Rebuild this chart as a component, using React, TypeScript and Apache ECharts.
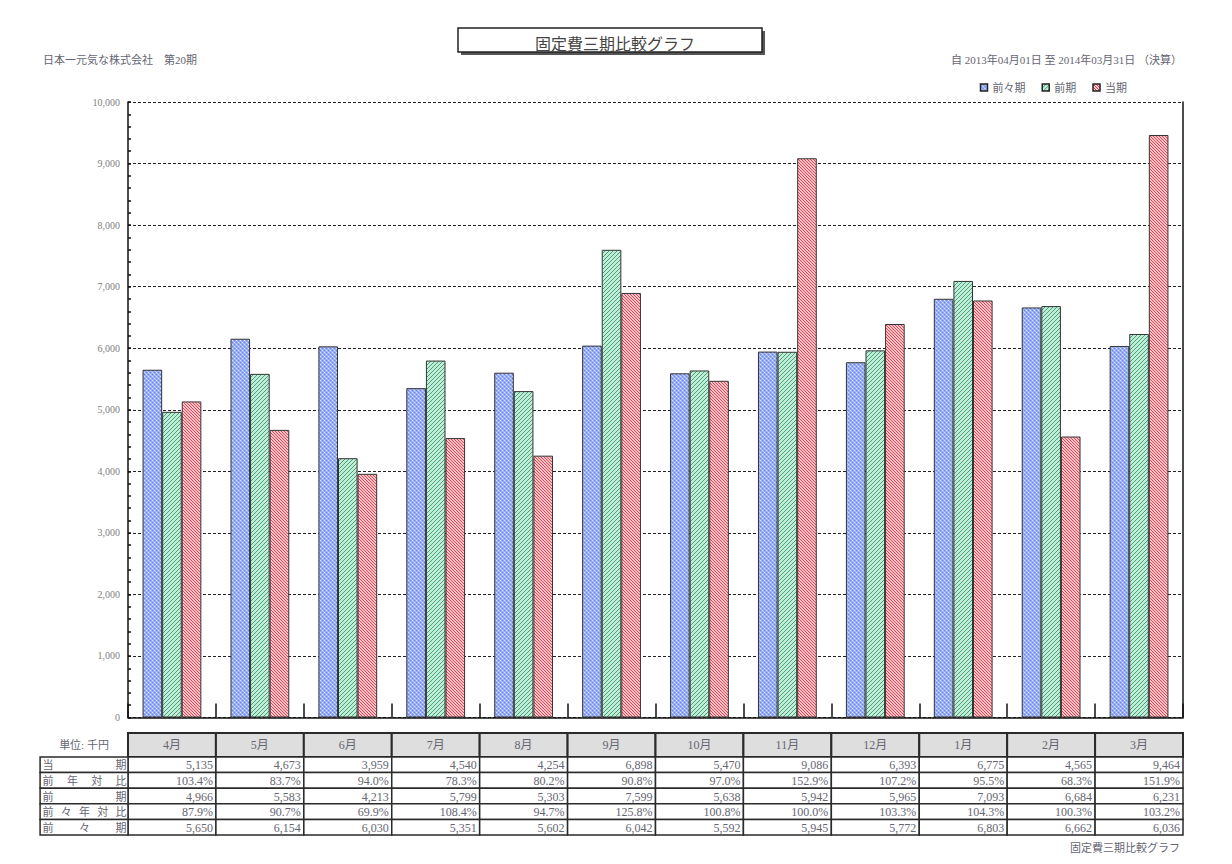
import React, { useEffect, useRef } from "react";
import * as echarts from "echarts";

const months = ["4月", "5月", "6月", "7月", "8月", "9月", "10月", "11月", "12月", "1月", "2月", "3月"];
const seriesNames = ["前々期", "前期", "当期"];
const current = [5135, 4673, 3959, 4540, 4254, 6898, 5470, 9086, 6393, 6775, 4565, 9464];
const yoyRatio = [103.4, 83.7, 94.0, 78.3, 80.2, 90.8, 97.0, 152.9, 107.2, 95.5, 68.3, 151.9];
const previous = [4966, 5583, 4213, 5799, 5303, 7599, 5638, 5942, 5965, 7093, 6684, 6231];
const yoy2Ratio = [87.9, 90.7, 69.9, 108.4, 94.7, 125.8, 100.8, 100.0, 103.3, 104.3, 100.3, 103.2];
const previous2 = [5650, 6154, 6030, 5351, 5602, 6042, 5592, 5945, 5772, 6803, 6662, 6036];
const rowLabels = [["当", "期"], ["前", "年", "対", "比"], ["前", "期"], ["前", "々", "年", "対", "比"], ["前", "々", "期"]];
const yTicks = { min: 0, max: 10000, interval: 1000 };

const SERIF = "'Liberation Serif', 'DejaVu Serif', 'Noto Sans CJK JP', serif";
const TXT = "#666672";

const fmtN = (v: number) => v.toLocaleString("en-US");
const fmtP = (v: number) => v.toFixed(1) + "%";

function makePattern(w: number, h: number, bg: string, pixels: [number, number, string][]) {
  const cv = document.createElement("canvas");
  cv.width = w;
  cv.height = h;
  const ctx = cv.getContext("2d")!;
  ctx.fillStyle = bg;
  ctx.fillRect(0, 0, w, h);
  pixels.forEach(([x, y, c]) => {
    ctx.fillStyle = c;
    ctx.fillRect(x, y, 1, 1);
  });
  return { image: cv.toDataURL(), repeat: "repeat", imageWidth: w, imageHeight: h } as any;
}

export default function App() {
  const ref = useRef<HTMLDivElement>(null);
  useEffect(() => {
    if (!ref.current) return;
    const chart = echarts.init(ref.current, undefined, { renderer: "svg" });

    const blueP = makePattern(4, 4, "#93aaf4", [
      [0, 0, "#dfe6ff"], [2, 2, "#dfe6ff"], [0, 2, "#6a84ea"], [2, 0, "#6a84ea"],
      [1, 1, "#b4c4fa"], [3, 3, "#b4c4fa"],
    ]);
    const greenD = "#3ea677";
    const greenP = makePattern(4, 4, "#c4ead8", [
      [0, 3, greenD], [1, 2, greenD], [2, 1, greenD], [3, 0, greenD],
    ]);
    const redD = "#f0404f";
    const redP = makePattern(3, 3, "#fcc8cc", [
      [0, 0, redD], [1, 1, redD], [2, 2, redD],
    ]);
    const patterns = [blueP, greenP, redP];
    const values = [previous2, previous, current];

    const rowTexts = [current.map(fmtN), yoyRatio.map(fmtP), previous.map(fmtN), yoy2Ratio.map(fmtP), previous2.map(fmtN)];

    const headerData = months.map((_, i) => [i, 0]);
    const cellData: number[][] = [];
    rowTexts.forEach((row, r) => row.forEach((_, i) => cellData.push([i, r])));

    const option: any = {
      animation: false,
      backgroundColor: "#fff",
      title: {
        text: "固定費三期比較グラフ",
        left: 610,
        top: 31,
        textAlign: "center",
        textStyle: { fontSize: 16, fontWeight: "normal", color: "#444", fontFamily: SERIF },
      },
      legend: {
        data: seriesNames,
        right: 100,
        top: 77,
        itemWidth: 7,
        itemHeight: 7,
        itemGap: 16,
        icon: "rect",
        textStyle: { fontSize: 11, color: TXT, fontFamily: SERIF },
        itemStyle: { borderColor: "#222", borderWidth: 1.5 },
      },
      graphic: [
        { type: "rect", shape: { x: 461, y: 31, width: 304, height: 24 }, style: { fill: "#555" }, z: 0 },
        { type: "rect", shape: { x: 458, y: 28, width: 304, height: 24 }, style: { fill: "#fff", stroke: "#222", lineWidth: 1.5 }, z: 1 },
        {
          type: "text", style: { text: "日本一元気な株式会社　第20期", x: 43, y: 60, verticalAlign: "middle", fontSize: 11, fontFamily: SERIF, fill: TXT },
        },
        {
          type: "text", style: { text: "自 2013年04月01日 至 2014年03月31日 （決算）", x: 1182, y: 60, align: "right", verticalAlign: "middle", fontSize: 11, fontFamily: SERIF, fill: TXT },
        },
        {
          type: "text", style: { text: "固定費三期比較グラフ", x: 1180, y: 848, align: "right", verticalAlign: "middle", fontSize: 11, fontFamily: SERIF, fill: TXT },
        },
      ],
      grid: [
        { left: 128, right: 49, top: 102, bottom: 146.5 },
        { left: 128, right: 49, top: 733, height: 24 },
        { left: 128, right: 49, top: 757, height: 78 },
      ],
      xAxis: [
        {
          type: "category", gridIndex: 0, data: months, boundaryGap: true,
          axisLine: { show: true, lineStyle: { color: "#111", width: 1.5 } },
          axisTick: { show: true, inside: true, length: 14, lineStyle: { color: "#111", width: 1.5 } },
          axisLabel: { show: false },
        },
        { type: "category", gridIndex: 1, data: months, show: false },
        { type: "category", gridIndex: 2, data: months, show: false },
      ],
      yAxis: [
        {
          type: "value", gridIndex: 0, min: yTicks.min, max: yTicks.max, interval: yTicks.interval,
          axisLine: { show: true, lineStyle: { color: "#111", width: 1.5 } },
          axisTick: { show: true, inside: true, length: 3, lineStyle: { color: "#111", width: 1.5 } },
          minorTick: { show: true, splitNumber: 5, length: 3, lineStyle: { color: "#111", width: 1.5 } },
          axisLabel: { fontSize: 10, color: "#808080", fontFamily: SERIF, margin: 8, formatter: (v: number) => fmtN(v) },
          splitLine: { show: true, lineStyle: { color: "#222", type: [3, 2], width: 1.2 } },
        },
        {
          type: "value", gridIndex: 0, position: "right", min: yTicks.min, max: yTicks.max, interval: yTicks.interval,
          axisLine: { show: true, lineStyle: { color: "#111", width: 1.5 } },
          axisTick: { show: false }, axisLabel: { show: false }, splitLine: { show: false },
        },
        { type: "category", gridIndex: 1, data: ["h"], show: false },
        { type: "category", gridIndex: 2, data: ["0", "1", "2", "3", "4"], inverse: true, show: false },
      ],
      series: [
        ...seriesNames.map((name, k) => ({
          name,
          type: "bar",
          xAxisIndex: 0,
          yAxisIndex: 0,
          data: values[k],
          barWidth: 19.6,
          barGap: "0%",
          itemStyle: { color: patterns[k], borderColor: "#333", borderWidth: 1 },
        })),
        {
          type: "custom",
          name: "header",
          xAxisIndex: 1,
          yAxisIndex: 2,
          data: headerData,
          clip: false,
          renderItem: (params: any, api: any) => {
            const xi = api.value(0);
            const c = api.coord([xi, 0]);
            const s = api.size([1, 1]);
            const w = s[0], h = s[1];
            const x0 = c[0] - w / 2, y0 = c[1] - h / 2;
            const children: any[] = [
              { type: "rect", shape: { x: x0, y: y0, width: w, height: h }, style: { fill: "#dedede", stroke: "#2a2a2a", lineWidth: 2 } },
              { type: "text", style: { text: months[xi], x: c[0], y: c[1], align: "center", verticalAlign: "middle", fontSize: 12, fontFamily: SERIF, fill: TXT } },
            ];
            if (xi === 0) {
              children.push({ type: "text", style: { text: "単位: 千円", x: x0 - w / 2, y: c[1], align: "center", verticalAlign: "middle", fontSize: 11, fontFamily: SERIF, fill: TXT } });
            }
            return { type: "group", children };
          },
        },
        {
          type: "custom",
          name: "cells",
          xAxisIndex: 2,
          yAxisIndex: 3,
          data: cellData,
          clip: false,
          renderItem: (params: any, api: any) => {
            const xi = api.value(0), ri = api.value(1);
            const c = api.coord([xi, ri]);
            const s = api.size([1, 1]);
            const w = s[0], h = s[1];
            const x0 = c[0] - w / 2, y0 = c[1] - h / 2;
            const children: any[] = [
              { type: "rect", shape: { x: x0, y: y0, width: w, height: h }, style: { fill: "#fff", stroke: "#2a2a2a", lineWidth: 1.5 } },
              { type: "text", style: { text: rowTexts[ri][xi], x: x0 + w - 3, y: c[1] + 0.5, align: "right", verticalAlign: "middle", fontSize: 12, fontFamily: SERIF, fill: TXT } },
            ];
            if (xi === 0) {
              const lx0 = x0 - w;
              children.push({ type: "rect", shape: { x: lx0, y: y0, width: w, height: h }, style: { fill: "#fff", stroke: "#2a2a2a", lineWidth: 1.5 } });
              const chars = rowLabels[ri];
              const a = lx0 + 8, b = x0 - 7;
              chars.forEach((ch, j) => {
                const cx = chars.length === 1 ? a : a + ((b - a) * j) / (chars.length - 1);
                children.push({ type: "text", style: { text: ch, x: cx, y: c[1] + 0.5, align: "center", verticalAlign: "middle", fontSize: 11, fontFamily: SERIF, fill: TXT } });
              });
            }
            return { type: "group", children };
          },
        },
      ],
    };
    chart.setOption(option);
    return () => chart.dispose();
  }, []);
  return <div ref={ref} style={{ position: "fixed", left: 0, top: 0, width: 1232, height: 864 }} />;
}
